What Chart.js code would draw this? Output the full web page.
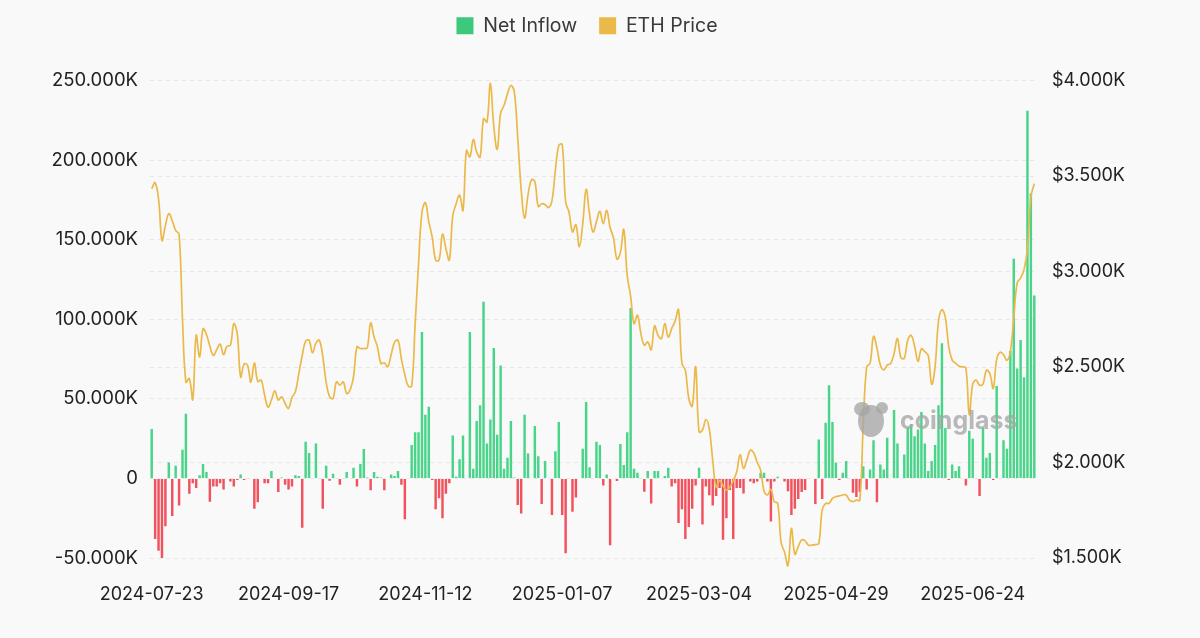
<!DOCTYPE html>
<html>
<head>
<meta charset="utf-8">
<script src="https://cdn.jsdelivr.net/npm/chart.js@4.4.1/dist/chart.umd.min.js"></script>
<style>
  html, body { margin: 0; padding: 0; background: #f9f9f9; }
  #wrap { width: 1200px; height: 638px; }
</style>
</head>
<body>
<div id="wrap"><canvas id="flowChart" width="1200" height="638"></canvas></div>
<script>
// first trading day shown, one bar per weekday
var startDate = '2024-07-23';
var labelEvery = 40;

// daily ETF net inflow, in thousands of ETH
var netInflowK = [
  31, -38, -45.5, -51, -30, 10, -23.6, 8, -17, 18, 40.7, -9.6, -3, -6, 2, 9, 4, -14.6, -5, -5,
  -3, -7, 0, -2, -5, -1, 2.5, -1, 0, 0, -19, -15, 0, -3, -3, 4.6, 0, -8.5, 0.5, -4,
  -7, -5, 2, 1.5, -31, 23, 16, 0, 22, 0, -19, 8, -1.5, 3, 0, -4, 0, 4, 0, 6.7,
  -5, 9, 18.5, 0.5, -7.5, 4, 1, 0.5, -7.5, 0, 2.5, 1.5, 4.6, -4, -25.7, 0, 21, 29, 29, 92,
  40, 45, -1, -19.4, -12.5, -25, -9.7, -3, 27, 1, 12, 27, 0, 92, 6, 36, 46, 111, 22, 37,
  82, 27.5, 71, 6, 13, 36, 0.5, -16.7, -22, 40, 15.6, 0, 33, 14, -16, 11, 0, -23, 17, 35.5,
  -23, -47, 0, -21, -12, 0, 18.6, 48, 7, 0, 23, 21, -4.4, 2.5, -42, 0, -1.7, 21.7, 8.4, 29,
  107, 6, 3.5, 0, -8.4, 4.6, -15.7, 4.6, 4.6, 0, 1.5, 6.7, -5, -3, -28, -19.4, -38, -30.5, -19, -4.4,
  6.7, -29, -5, -10.6, -17, -11, -6, -38.6, -25, -7.3, -38, -6, -6, -9.4, 0, -2, -3, -2, 3.5, 3.5,
  -2, -27, -2, 1, 0, -2, -8, -23, -19, -13, -8.6, -7.3, 0, 0, -16, 24.4, -13, 35, 58.5, 35.5,
  10, -1, 3.5, 11, 0, -9, -11.7, -8.6, 7.7, -7, 5.6, 24, -15, 8.8, 5.6, 25.5, 0, 43, 22, 0,
  15, 32, 34, 26.5, 30.7, 41.7, 22, 4.6, 11, 21, 46, 85, 31.7, -1, 8.8, 4.6, 7.7, 0, -4.4, 30,
  25, 0, -11, 32, 13, 16, -1, 58, 0, 24, 18.6, 80, 138, 69, 87, 63.5, 231, 179, 115
];

// ETH close, USD
var ethPrice = [
  3434, 3465, 3380, 3163, 3240, 3303, 3265, 3215, 3195, 2750, 2420, 2440, 2330, 2666, 2553, 2700, 2670, 2610, 2560, 2590,
  2619, 2565, 2609, 2614, 2727, 2675, 2448, 2515, 2510, 2420, 2522, 2425, 2431, 2353, 2290, 2327, 2375, 2327, 2344, 2309,
  2283, 2340, 2370, 2465, 2560, 2635, 2640, 2575, 2625, 2640, 2555, 2420, 2345, 2335, 2422, 2405, 2422, 2361, 2380, 2450,
  2605, 2597, 2597, 2600, 2731, 2657, 2605, 2518, 2522, 2501, 2565, 2630, 2640, 2540, 2460, 2400, 2400, 2720, 3040, 3310,
  3360, 3260, 3180, 3059, 3060, 3195, 3120, 3060, 3290, 3355, 3400, 3320, 3634, 3600, 3690, 3625, 3599, 3800, 3782, 3985,
  3760, 3640, 3830, 3870, 3930, 3974, 3940, 3700, 3430, 3280, 3400, 3480, 3470, 3340, 3355, 3350, 3335, 3370, 3530, 3660,
  3665, 3365, 3310, 3207, 3245, 3130, 3250, 3430, 3300, 3207, 3260, 3315, 3250, 3320, 3230, 3175, 3065, 3100, 3220, 2980,
  2870, 2727, 2771, 2675, 2614, 2631, 2590, 2715, 2666, 2649, 2727, 2657, 2701, 2740, 2800, 2518, 2483, 2335, 2295, 2501,
  2160, 2170, 2225, 2175, 2010, 1870, 1905, 1880, 1855, 1870, 1905, 1950, 2040, 1970, 2015, 2065, 2050, 2000, 1960, 1850,
  1830, 1860, 1795, 1786, 1580, 1530, 1460, 1655, 1520, 1560, 1595, 1590, 1567, 1567, 1570, 1576, 1751, 1786, 1786, 1812,
  1821, 1825, 1830, 1830, 1803, 1795, 1803, 1803, 2200, 2500, 2520, 2660, 2600, 2510, 2485, 2510, 2518, 2570, 2649, 2550,
  2545, 2640, 2666, 2610, 2530, 2595, 2580, 2560, 2410, 2501, 2740, 2800, 2760, 2605, 2536, 2520, 2505, 2501, 2495, 2250,
  2410, 2431, 2405, 2410, 2483, 2466, 2388, 2540, 2577, 2565, 2535, 2580, 2760, 2940, 2965, 3010, 3120, 3390, 3460
];

var greenBar = '#4ad48a';
var redBar = '#f0525e';
var priceColor = '#ebb94a';

// weekday labels, one per value
var dates = [];
var d = new Date(startDate + 'T00:00:00Z');
while (dates.length < netInflowK.length) {
  var wd = d.getUTCDay();
  if (wd !== 0 && wd !== 6) dates.push(d.toISOString().slice(0, 10));
  d.setUTCDate(d.getUTCDate() + 1);
}

// push the plot down below the legend and nudge the legend into place
var legendSpace = {
  id: 'legendSpace',
  beforeInit: function (chart) {
    var fit = chart.legend.fit;
    chart.legend.fit = function () {
      fit.bind(chart.legend)();
      this.height += 25;
    };
  },
  afterLayout: function (chart) {
    var lg = chart.legend;
    lg.left -= 39;
    lg.right -= 39;
    lg.top -= 10;
    lg.bottom -= 10;
  }
};

// faint coinglass mark over the plot
var watermark = {
  id: 'watermark',
  afterDatasetsDraw: function (chart) {
    var c = chart.ctx;
    c.save();
    c.fillStyle = 'rgba(165,165,165,0.78)';
    c.beginPath();
    c.ellipse(871, 421, 13, 16, 0, 0, Math.PI * 2);
    c.fill();
    c.beginPath();
    c.ellipse(862, 409, 8, 7, 0, 0, Math.PI * 2);
    c.fill();
    c.beginPath();
    c.ellipse(882, 408, 6, 6, 0, 0, Math.PI * 2);
    c.fill();
    c.font = 'bold 25px Inter';
    c.textBaseline = 'middle';
    c.fillText('coinglass', 900, 421);
    c.restore();
  }
};

var ctx = document.getElementById('flowChart').getContext('2d');

var flowChart = new Chart(ctx, {
  type: 'bar',
  data: {
    labels: dates,
    datasets: [{
      label: 'Net Inflow',
      data: netInflowK,
      yAxisID: 'yFlow',
      order: 2,
      backgroundColor: netInflowK.map(function (v) { return v >= 0 ? greenBar : redBar; }),
      borderWidth: 0,
      barPercentage: 0.8,
      categoryPercentage: 0.9
    }, {
      type: 'line',
      label: 'ETH Price',
      data: ethPrice,
      yAxisID: 'yPrice',
      order: 1,
      borderColor: priceColor,
      backgroundColor: priceColor,
      borderWidth: 1.7,
      pointRadius: 0,
      tension: 0.4,
      clip: 10
    }]
  },
  options: {
    responsive: false,
    animation: false,
    layout: { padding: { top: 4, left: 52, right: 0, bottom: 20 } },
    plugins: {
      tooltip: { enabled: false },
      legend: {
        position: 'top',
        labels: {
          boxWidth: 17,
          boxHeight: 17,
          padding: 22,
          color: '#3a3a3a',
          font: { family: 'Inter', size: 19.5 },
          sort: function (a, b) { return a.datasetIndex - b.datasetIndex; },
          generateLabels: function (chart) {
            var items = Chart.defaults.plugins.legend.labels.generateLabels(chart);
            items.forEach(function (it) {
              var col = it.datasetIndex === 0 ? '#3cc97b' : priceColor;
              it.fillStyle = col;
              it.strokeStyle = col;
              it.lineWidth = 0;
            });
            return items;
          }
        }
      }
    },
    scales: {
      x: {
        offset: true,
        grid: { display: false, drawTicks: false },
        border: { display: false },
        ticks: {
          autoSkip: false,
          maxRotation: 0,
          padding: 26,
          color: '#222',
          font: { family: 'Inter', size: 18 },
          callback: function (val, i) {
            return i % labelEvery === 0 ? this.getLabelForValue(val) : '';
          }
        },
        afterFit: function (scale) { scale.height = 60; }
      },
      yFlow: {
        position: 'left',
        min: -50,
        max: 250,
        grid: { color: '#e7e7e7', drawTicks: false },
        border: { display: false, dash: [4, 4] },
        ticks: {
          stepSize: 50,
          padding: 12,
          color: '#222',
          font: { family: 'Inter', size: 18.5 },
          callback: function (v) { return v === 0 ? '0' : v.toFixed(3) + 'K'; }
        },
        afterFit: function (scale) { scale.width = 98; }
      },
      yPrice: {
        position: 'right',
        min: 1500,
        max: 4000,
        grid: { color: '#e7e7e7', drawTicks: false },
        border: { display: false, dash: [4, 4] },
        ticks: {
          stepSize: 500,
          padding: 16,
          color: '#222',
          font: { family: 'Inter', size: 18 },
          callback: function (v) { return '$' + (v / 1000).toFixed(3) + 'K'; }
        },
        afterFit: function (scale) { scale.width = 164; }
      }
    }
  },
  plugins: [legendSpace, watermark]
});
</script>
</body>
</html>
